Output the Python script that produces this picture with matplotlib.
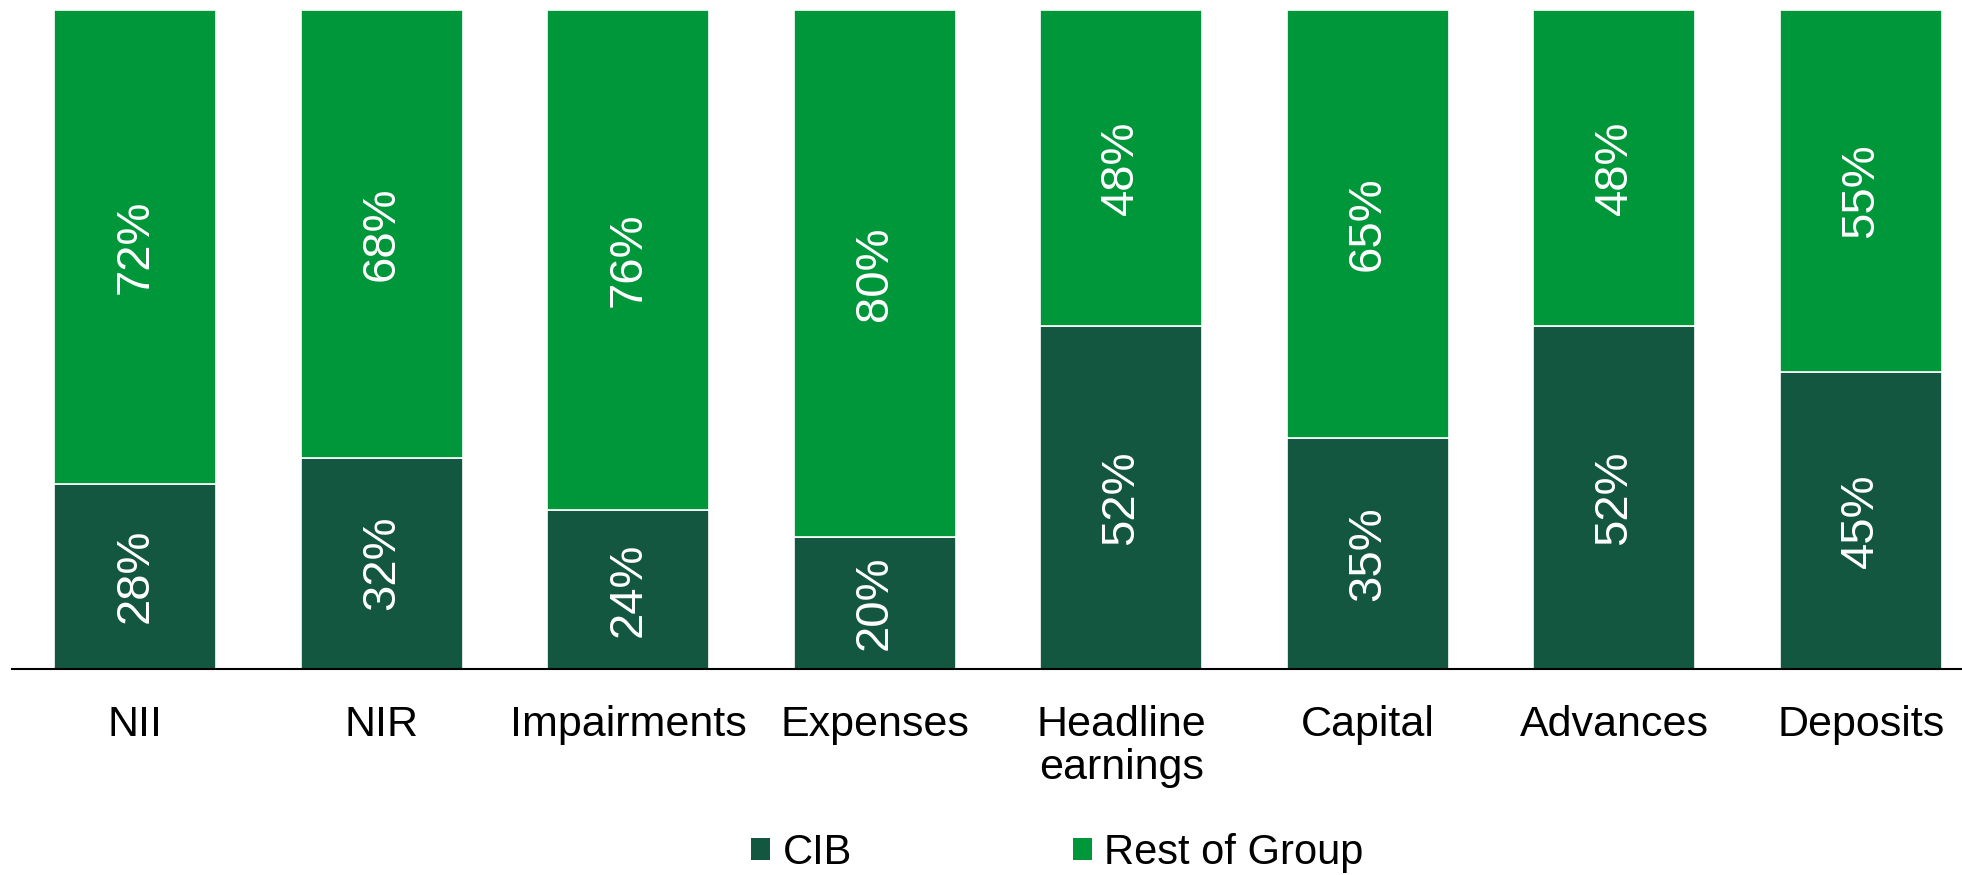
import matplotlib
matplotlib.use("Agg")
import matplotlib.pyplot as plt
from matplotlib.patches import Patch
import numpy as np

plt.rcParams['font.family'] = ['Liberation Sans', 'DejaVu Sans']

categories = ['NII', 'NIR', 'Impairments', 'Expenses', 'Headline\nearnings',
              'Capital', 'Advances', 'Deposits']
cib = [28, 32, 24, 20, 52, 35, 52, 45]
rest_of_group = [72, 68, 76, 80, 48, 65, 48, 55]

dark_green = '#135741'
light_green = '#00963a'

fig = plt.figure(figsize=(19.62, 8.75), dpi=100)
ax = fig.add_axes([0.0061, 0.236, 0.9939, 0.7526])

x = np.arange(len(categories))
w = 0.657
b1 = ax.bar(x, cib, w, color=dark_green, edgecolor='white', linewidth=1.2)
b2 = ax.bar(x, rest_of_group, w, bottom=cib, color=light_green,
            edgecolor='white', linewidth=1.2)

for i in range(len(categories)):
    ax.text(x[i], cib[i] / 2, f'{cib[i]}%', rotation=90, ha='center',
            va='center', color='white', fontsize=34)
    ax.text(x[i], cib[i] + rest_of_group[i] / 2, f'{rest_of_group[i]}%',
            rotation=90, ha='center', va='center', color='white', fontsize=34)

ax.set_xlim(-0.5, 7.41)
ax.set_ylim(0, 100)
ax.set_xticks(x)
ax.set_xticklabels(categories, fontsize=31, linespacing=1.12)
ax.tick_params(axis='x', length=0, pad=26)
ax.set_yticks([])
for s in ['top', 'right', 'left']:
    ax.spines[s].set_visible(False)
ax.spines['bottom'].set_linewidth(1.5)
ax.spines['bottom'].set_color('black')

handles = [Patch(facecolor=dark_green), Patch(facecolor=light_green)]
fig.legend(handles, ['CIB', 'Rest of Group'], loc='center',
           bbox_to_anchor=(0.539, 0.025), ncol=2, frameon=False, fontsize=30,
           handlelength=0.45, handleheight=0.45, handletextpad=0.3,
           columnspacing=5.3)

fig.savefig('out.png', dpi=100)
